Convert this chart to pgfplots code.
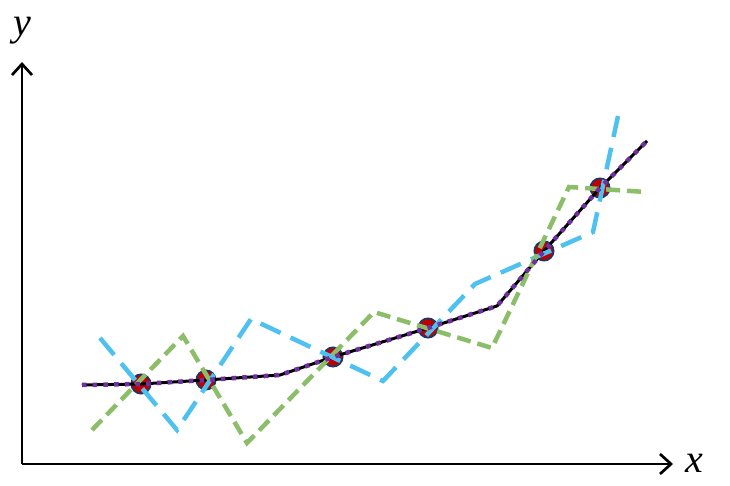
\documentclass[border=0pt]{standalone}
\usepackage{fontspec}
\setmainfont{Liberation Serif}
\usepackage{pgfplots}
\pgfplotsset{compat=1.18}
\usetikzlibrary{arrows.meta}

\definecolor{lineblue}{RGB}{79,193,240}
\definecolor{linegreen}{RGB}{140,189,104}
\definecolor{linepurple}{RGB}{112,48,160}
\definecolor{markred}{RGB}{192,0,0}
\definecolor{markedge}{RGB}{32,56,100}

\begin{document}
\begin{tikzpicture}
\begin{axis}[
x=1pt, y=1pt,
xmin=0, xmax=651,
ymin=0, ymax=402,
axis lines=left,
axis line style={line width=2.7pt},
every outer x axis line/.append style={-{Straight Barb[length=11pt,width=20pt,line width=2.7pt]}},
every outer y axis line/.append style={-{Straight Barb[length=11pt,width=20pt,line width=2.7pt]}},
xtick=\empty, ytick=\empty,
clip=false,
clip marker paths=true,
]
% markers, drawn first so the lines run over them
\addplot [only marks, mark=*, mark size=9.6pt,
  mark options={fill=markred, draw=markedge, line width=1.8pt}]
table {%
119 80
184 84
311 107
406 136
522 213
578 276
};
% black solid
\addplot [black, line width=3pt, line join=round]
table {%
60 79
119 80
184 84
258 89
311 107
406 136
475 158
522 213
578 276
625 323
};
% blue dashed
\addplot [lineblue, line width=4.5pt, dash pattern=on 22pt off 11pt]
table {%
78 126
155 34
229 145
361 83
453 180
571 232
596 348
};
% green dashed
\addplot [linegreen, line width=4.5pt, dash pattern=on 14pt off 7pt]
table {%
70 34
161 128
225 21
352 152
470 116
547 277
624 272
};
% purple dotted
\addplot [linepurple, line width=4.5pt, dash pattern=on 4.5pt off 6.2pt]
table {%
60 79
119 80
184 84
258 89
311 107
406 136
475 158
522 213
578 276
625 323
};
\node[anchor=base] at (axis cs:672,-9) {\fontsize{40}{42}\selectfont\itshape x};
\node[anchor=base] at (axis cs:0,428) {\fontsize{40}{42}\selectfont\itshape y};
\coordinate (bl) at (axis cs:-22,-22);
\coordinate (tr) at (axis cs:708,464);
\end{axis}
\pgfresetboundingbox
\path (bl) rectangle (tr);
\end{tikzpicture}
\end{document}
